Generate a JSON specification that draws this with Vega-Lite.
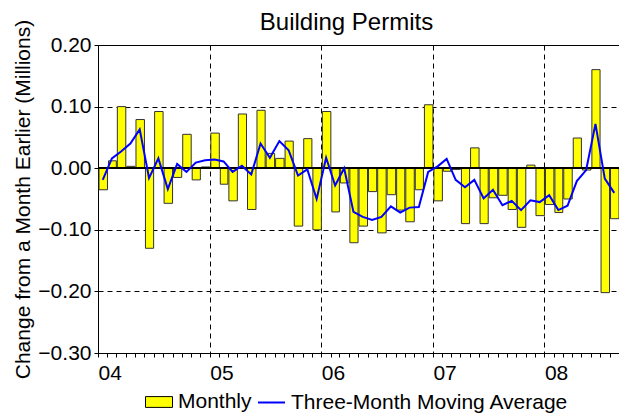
{
  "$schema": "https://vega.github.io/schema/vega-lite/v6.json",
  "autosize": "none",
  "width": 521,
  "height": 308,
  "padding": {"left": 98, "top": 45, "right": 0, "bottom": 62},
  "background": "white",
  "title": {"text": "Building Permits", "fontSize": 24, "font": "Liberation Sans", "fontWeight": "normal", "offset": -16, "dx": -12},
  "config": {
    "font": "Liberation Sans",
    "view": {"stroke": "black", "strokeWidth": 1},
    "axis": {"labelFont": "Liberation Sans", "titleFont": "Liberation Sans", "labelColor": "black", "titleColor": "black", "domainColor": "black", "tickColor": "black", "labelFontSize": 21, "titleFontSize": 21, "titleFontWeight": "normal", "gridColor": "black", "gridDash": [5, 4], "gridWidth": 1}
  },
  "data": {"values": [
    {"date": "2004-01-01", "monthly": -0.035, "avg": -0.019},
    {"date": "2004-02-01", "monthly": 0.012, "avg": 0.016},
    {"date": "2004-03-01", "monthly": 0.100, "avg": 0.027},
    {"date": "2004-04-01", "monthly": 0.003, "avg": 0.040},
    {"date": "2004-05-01", "monthly": 0.079, "avg": 0.063},
    {"date": "2004-06-01", "monthly": -0.130, "avg": -0.016},
    {"date": "2004-07-01", "monthly": 0.092, "avg": 0.016},
    {"date": "2004-08-01", "monthly": -0.057, "avg": -0.034},
    {"date": "2004-09-01", "monthly": -0.015, "avg": 0.007},
    {"date": "2004-10-01", "monthly": 0.055, "avg": -0.006},
    {"date": "2004-11-01", "monthly": -0.019, "avg": 0.009},
    {"date": "2004-12-01", "monthly": 0.002, "avg": 0.013},
    {"date": "2005-01-01", "monthly": 0.057, "avg": 0.014},
    {"date": "2005-02-01", "monthly": -0.026, "avg": 0.011},
    {"date": "2005-03-01", "monthly": -0.053, "avg": -0.006},
    {"date": "2005-04-01", "monthly": 0.088, "avg": 0.004},
    {"date": "2005-05-01", "monthly": -0.067, "avg": -0.010},
    {"date": "2005-06-01", "monthly": 0.094, "avg": 0.040},
    {"date": "2005-07-01", "monthly": 0.024, "avg": 0.017},
    {"date": "2005-08-01", "monthly": 0.016, "avg": 0.044},
    {"date": "2005-09-01", "monthly": 0.044, "avg": 0.029},
    {"date": "2005-10-01", "monthly": -0.094, "avg": -0.012},
    {"date": "2005-11-01", "monthly": 0.048, "avg": -0.002},
    {"date": "2005-12-01", "monthly": -0.100, "avg": -0.050},
    {"date": "2006-01-01", "monthly": 0.092, "avg": 0.017},
    {"date": "2006-02-01", "monthly": -0.071, "avg": -0.028},
    {"date": "2006-03-01", "monthly": -0.024, "avg": 0.000},
    {"date": "2006-04-01", "monthly": -0.121, "avg": -0.071},
    {"date": "2006-05-01", "monthly": -0.094, "avg": -0.079},
    {"date": "2006-06-01", "monthly": -0.038, "avg": -0.084},
    {"date": "2006-07-01", "monthly": -0.105, "avg": -0.079},
    {"date": "2006-08-01", "monthly": -0.043, "avg": -0.062},
    {"date": "2006-09-01", "monthly": -0.068, "avg": -0.072},
    {"date": "2006-10-01", "monthly": -0.087, "avg": -0.064},
    {"date": "2006-11-01", "monthly": -0.035, "avg": -0.063},
    {"date": "2006-12-01", "monthly": 0.103, "avg": -0.006},
    {"date": "2007-01-01", "monthly": -0.053, "avg": 0.003},
    {"date": "2007-02-01", "monthly": -0.005, "avg": 0.015},
    {"date": "2007-03-01", "monthly": -0.002, "avg": -0.019},
    {"date": "2007-04-01", "monthly": -0.090, "avg": -0.031},
    {"date": "2007-05-01", "monthly": 0.033, "avg": -0.019},
    {"date": "2007-06-01", "monthly": -0.090, "avg": -0.049},
    {"date": "2007-07-01", "monthly": -0.048, "avg": -0.035},
    {"date": "2007-08-01", "monthly": -0.044, "avg": -0.060},
    {"date": "2007-09-01", "monthly": -0.067, "avg": -0.053},
    {"date": "2007-10-01", "monthly": -0.096, "avg": -0.068},
    {"date": "2007-11-01", "monthly": 0.005, "avg": -0.052},
    {"date": "2007-12-01", "monthly": -0.077, "avg": -0.055},
    {"date": "2008-01-01", "monthly": -0.059, "avg": -0.044},
    {"date": "2008-02-01", "monthly": -0.072, "avg": -0.068},
    {"date": "2008-03-01", "monthly": -0.050, "avg": -0.061},
    {"date": "2008-04-01", "monthly": 0.049, "avg": -0.021},
    {"date": "2008-05-01", "monthly": -0.003, "avg": -0.003},
    {"date": "2008-06-01", "monthly": 0.160, "avg": 0.072},
    {"date": "2008-07-01", "monthly": -0.202, "avg": -0.017},
    {"date": "2008-08-01", "monthly": -0.082, "avg": -0.040}
  ]},
  "encoding": {
    "x": {
      "field": "date", "timeUnit": "utcyearmonth", "type": "temporal",
      "scale": {"type": "utc", "domain": [{"year": 2004, "month": 1, "date": 1, "utc": true}, {"year": 2008, "month": 9, "date": 1, "utc": true}], "nice": false},
      "axis": {
        "title": null,
        "tickCount": {"interval": "month", "step": 1},
        "labelExpr": "utcmonth(datum.value) == 0 ? utcFormat(datum.value, '%y') : ''",
        "labelAlign": "left",
        "labelPadding": 5,
        "labelOverlap": false,
        "tickSize": 4,
        "grid": true,
        "gridOpacity": {"condition": {"test": "utcmonth(datum.value) == 0 && year(datum.value) > 2004", "value": 1}, "value": 0}
      }
    }
  },
  "layer": [
    {
      "mark": {"type": "bar", "timeUnitBandSize": 0.88, "stroke": "#333333", "strokeWidth": 1},
      "encoding": {
        "y": {
          "field": "monthly", "type": "quantitative",
          "scale": {"domain": [-0.3, 0.2], "nice": false, "zero": false},
          "axis": {"title": "Change from a Month Earlier (Millions)", "values": [-0.3, -0.2, -0.1, 0, 0.1, 0.2], "format": ".2f", "grid": true, "tickSize": 4, "labelPadding": 3, "titlePadding": 4}
        },
        "fill": {"datum": "Monthly", "type": "nominal", "scale": {"domain": ["Monthly"], "range": ["#ffff00"]},
          "legend": {"title": null, "orient": "none", "legendX": 47, "legendY": 343, "padding": 0, "labelFontSize": 21, "labelFont": "Liberation Sans", "labelColor": "black", "labelLimit": 400, "labelOffset": 5, "symbolType": "M-1,-0.4H1V0.4H-1Z", "symbolSize": 729, "symbolStrokeColor": "black", "symbolStrokeWidth": 1, "symbolOpacity": 1}}
      }
    },
    {
      "mark": {"type": "rule", "color": "black", "strokeWidth": 1},
      "encoding": {"y": {"datum": 0, "type": "quantitative"}, "x": {"value": 0}, "x2": {"value": 521}}
    },
    {
      "mark": {"type": "line", "strokeWidth": 2},
      "encoding": {
        "x": {"field": "date", "timeUnit": "utcyearmonth", "type": "temporal", "bandPosition": 0.5},
        "y": {"field": "avg", "type": "quantitative"},
        "stroke": {"datum": "Three-Month Moving Average", "type": "nominal", "scale": {"domain": ["Three-Month Moving Average"], "range": ["#0000ff"]},
          "legend": {"title": null, "orient": "none", "legendX": 159, "legendY": 343, "padding": 0, "labelFontSize": 21, "labelFont": "Liberation Sans", "labelColor": "black", "labelLimit": 400, "labelOffset": 5, "symbolType": "stroke", "symbolSize": 729, "symbolStrokeWidth": 2}}
      }
    }
  ]
}
